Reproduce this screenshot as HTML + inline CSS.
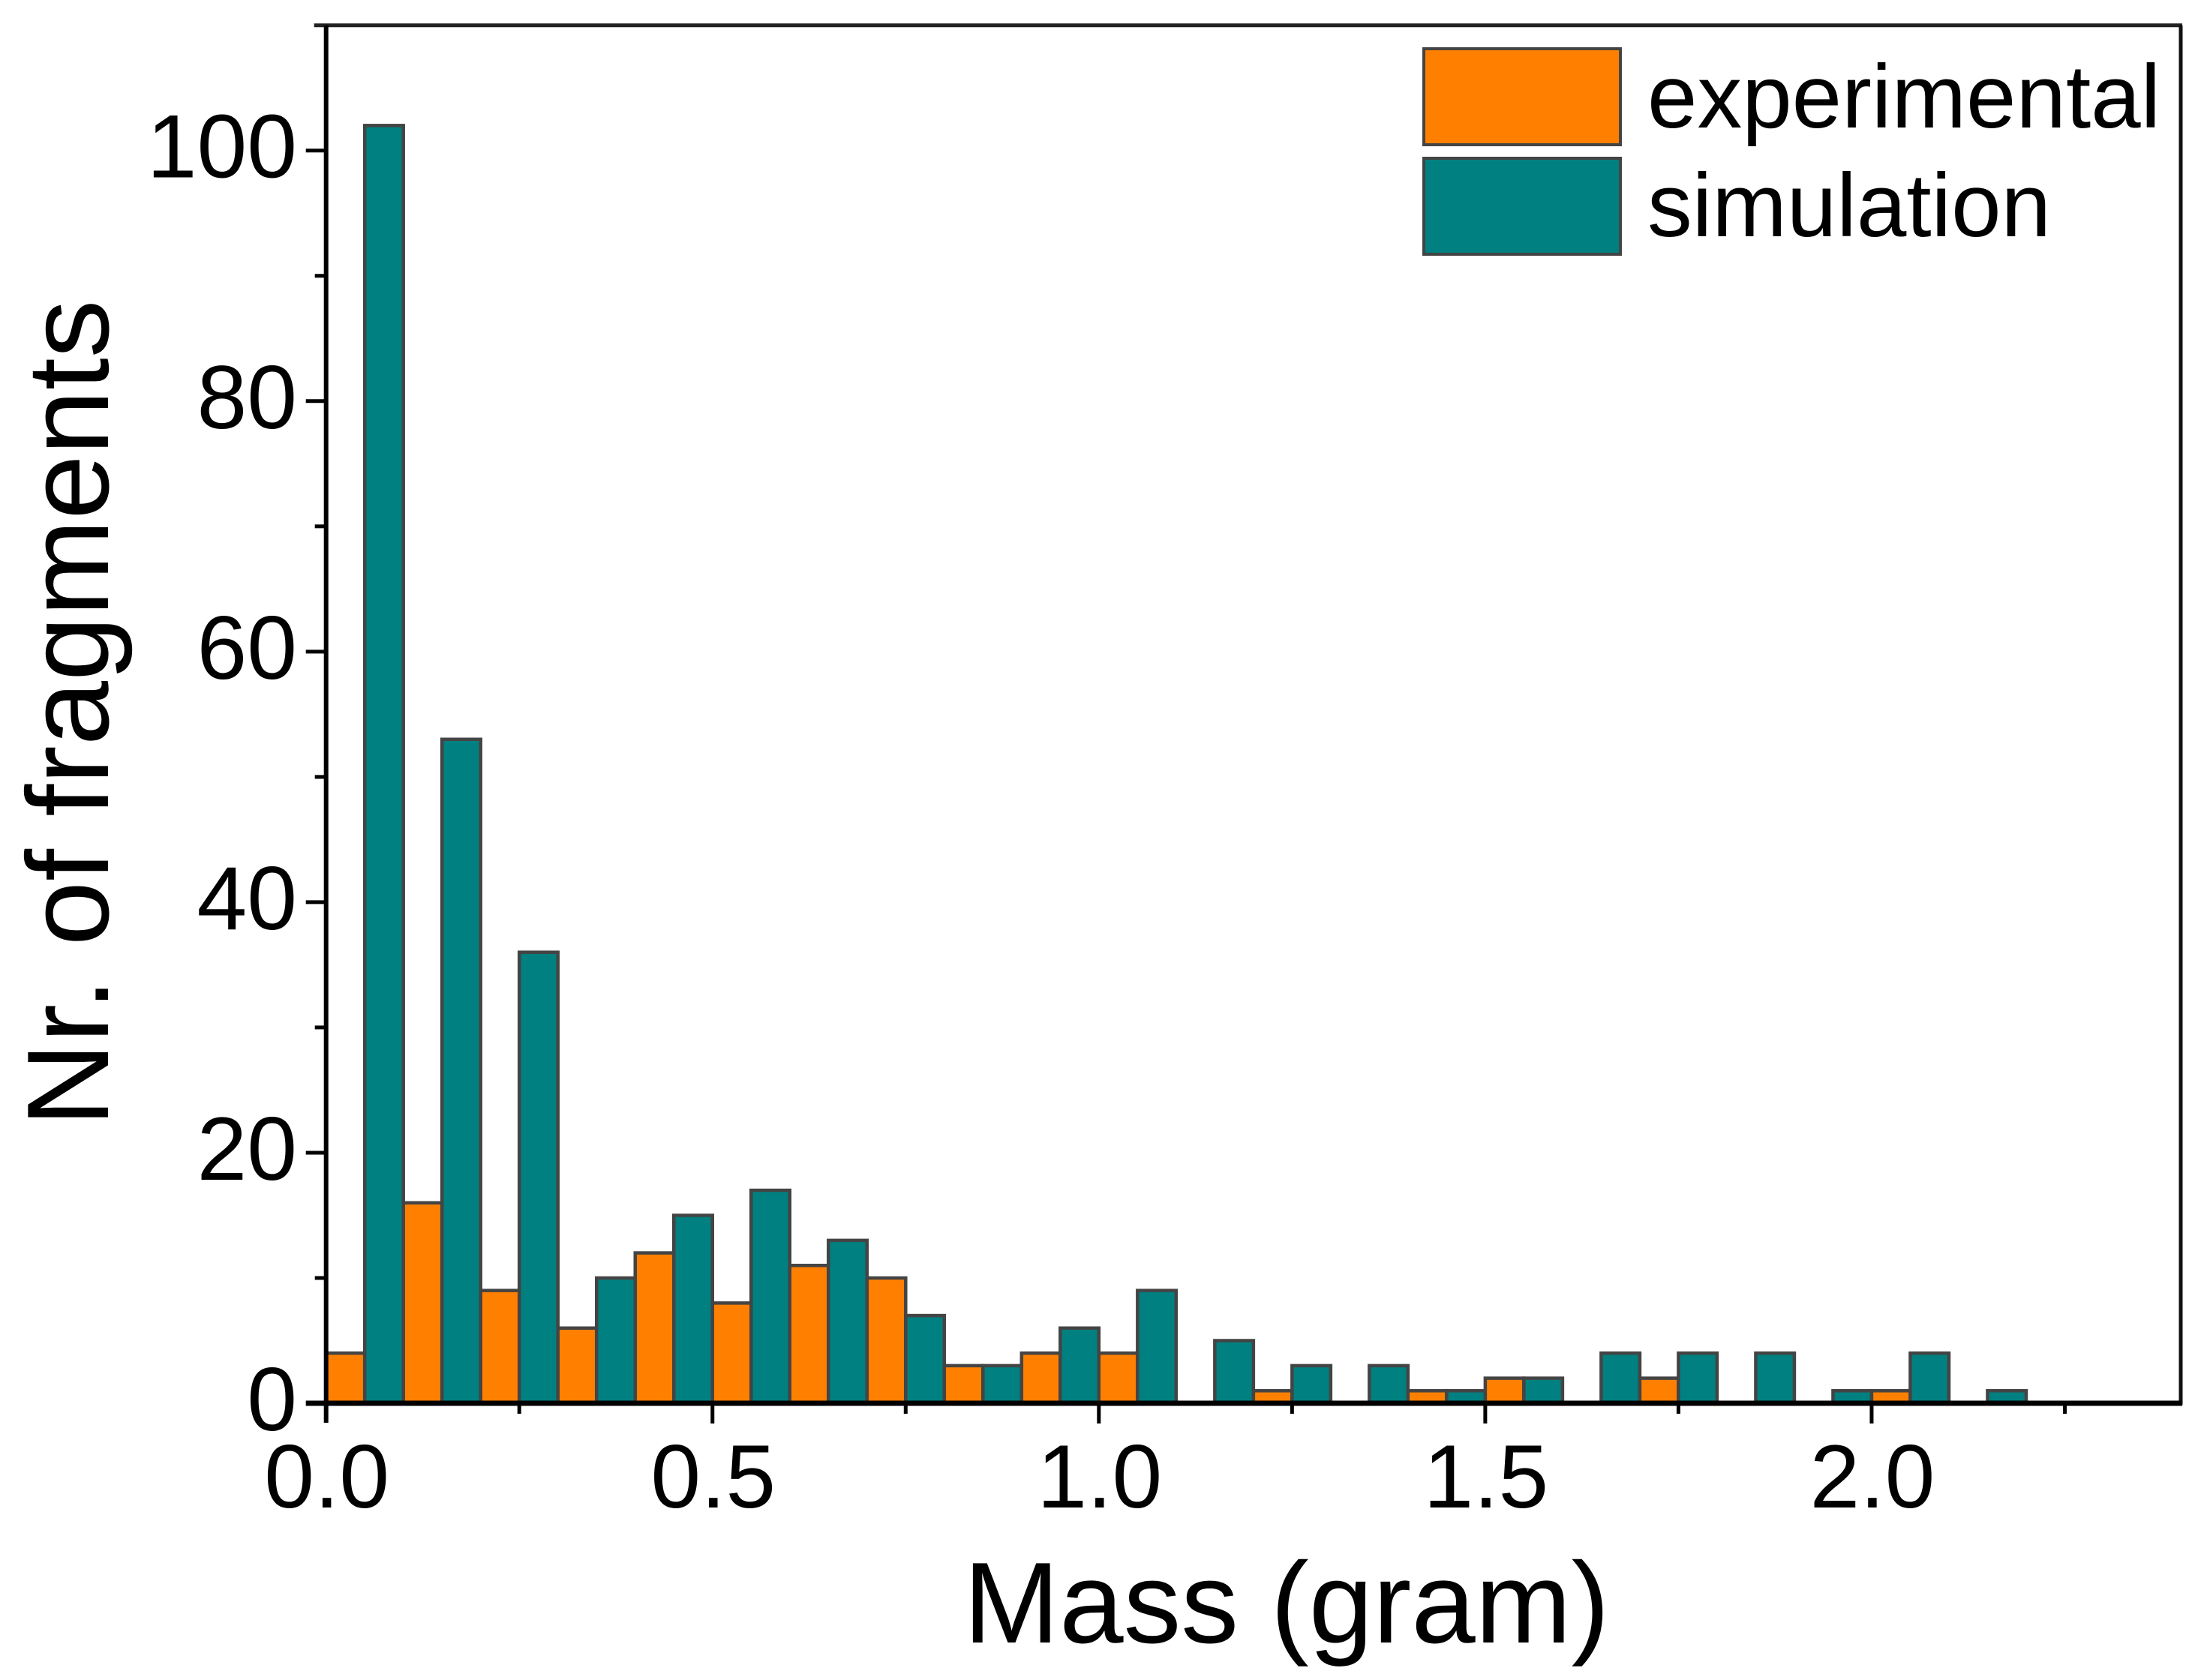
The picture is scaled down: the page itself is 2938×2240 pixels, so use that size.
<!DOCTYPE html>
<html lang="en">
<head>
<meta charset="utf-8">
<title>Mass histogram</title>
<style>
html,body{margin:0;padding:0;background:#fff;}
svg{display:block;}
text{font-family:"Liberation Sans",Arial,sans-serif;fill:#000;}
</style>
</head>
<body>
<svg id="chart" xmlns="http://www.w3.org/2000/svg" width="2938" height="2240" viewBox="0 0 2938 2240">
  <rect x="0" y="0" width="2938" height="2240" fill="#fff"/>
  <g id="bars"></g>
  <g id="axes"></g>
  <g id="labels"></g>
  <text x="1715" y="2190" font-size="153.5" text-anchor="middle">Mass (gram)</text>
  <text transform="translate(144 951) rotate(-90)" font-size="155" text-anchor="middle">Nr. of fragments</text>
  <g>
    <rect x="1898" y="65" width="262" height="128" fill="#ff8000" stroke="#444" stroke-width="4"/>
    <text x="2196" y="170" font-size="119.5">experimental</text>
    <rect x="1898" y="211" width="262" height="128" fill="#008080" stroke="#444" stroke-width="4"/>
    <text x="2196" y="315" font-size="119.5">simulation</text>
  </g>
</svg>
<script>
const experimental = [4,16,9,6,12,8,11,10,3,4,4,0,1,0,1,2,0,2,0,0,1,0];
const simulation = [102,53,36,10,15,17,13,7,3,6,9,5,3,3,1,2,4,4,4,1,4,1];
const binStarts = [0,0.1,0.2,0.3,0.4,0.5,0.6,0.7,0.8,0.9,1.0,1.1,1.2,1.3,1.4,1.5,1.6,1.7,1.8,1.9,2.0,2.1];
const xMajorTicks = [0,0.5,1.0,1.5,2.0];
const xMinorTicks = [0.25,0.75,1.25,1.75,2.25];
const xTickLabels = ["0.0","0.5","1.0","1.5","2.0"];
const yMajorTicks = [0,20,40,60,80,100];
const yMinorTicks = [10,30,50,70,90,110];
const yTickLabels = ["0","20","40","60","80","100"];
const barBinWidth = 0.05;

const plotLeft = 434.7, plotRight = 2907, plotTop = 33.7, plotBottom = 1871;
const xMax = 2.4, yMax = 110;
function xScale(v){ return plotLeft + (v / xMax) * (plotRight - plotLeft); }
function yScale(v){ return plotBottom - (v / yMax) * (plotBottom - plotTop); }

const NS = "http://www.w3.org/2000/svg";
const barsG = document.getElementById("bars");
const axesG = document.getElementById("axes");
const labelsG = document.getElementById("labels");

function drawBar(start, value, fill, name){
  if (value <= 0) return;
  const r = document.createElementNS(NS, "rect");
  r.setAttribute("x", xScale(start));
  r.setAttribute("y", yScale(value));
  r.setAttribute("width", xScale(start + barBinWidth) - xScale(start));
  r.setAttribute("height", yScale(0) - yScale(value));
  r.setAttribute("fill", fill);
  r.setAttribute("stroke", "#444");
  r.setAttribute("stroke-width", "4.5");
  
  
  barsG.appendChild(r);
}
binStarts.forEach(function(s, i){
  drawBar(s, experimental[i], "#ff8000", "bar-experimental-" + i);
  drawBar(s + barBinWidth, simulation[i], "#008080", "bar-simulation-" + i);
});

function drawLine(x1, y1, x2, y2, width, color, name){
  const l = document.createElementNS(NS, "line");
  l.setAttribute("x1", x1);
  l.setAttribute("y1", y1);
  l.setAttribute("x2", x2);
  l.setAttribute("y2", y2);
  l.setAttribute("stroke", color);
  l.setAttribute("stroke-width", width);
  
  
  axesG.appendChild(l);
}
function drawLabel(x, y, str, anchor, name){
  const t = document.createElementNS(NS, "text");
  t.setAttribute("x", x);
  t.setAttribute("y", y);
  t.setAttribute("font-size", "120");
  t.setAttribute("text-anchor", anchor);
  t.textContent = str;
  
  
  labelsG.appendChild(t);
}

drawLine(plotLeft - 16, plotTop, plotRight + 2, plotTop, 5, "#222", "top-border");
drawLine(plotRight, plotTop, plotRight, plotBottom + 2, 5, "#111", "right-border");
drawLine(plotLeft, plotTop, plotLeft, plotBottom + 26, 6, "#000", "y-axis-line");
drawLine(plotLeft - 27, plotBottom, plotRight + 2, plotBottom, 7, "#000", "x-axis-line");

xMajorTicks.forEach(function(v, i){
  if (v > 0) drawLine(xScale(v), plotBottom, xScale(v), plotBottom + 27, 5, "#000", "x-major-tick-" + i);
  drawLabel(xScale(v) + 1, 2010, xTickLabels[i], "middle", "x-tick-label-" + xTickLabels[i]);
});
xMinorTicks.forEach(function(v, i){
  drawLine(xScale(v), plotBottom, xScale(v), plotBottom + 14, 5, "#000", "x-minor-tick-" + i);
});
yMajorTicks.forEach(function(v, i){
  if (v > 0) drawLine(plotLeft - 27, yScale(v), plotLeft, yScale(v), 5, "#000", "y-major-tick-" + i);
  drawLabel(396, yScale(v) + 36, yTickLabels[i], "end", "y-tick-label-" + yTickLabels[i]);
});
yMinorTicks.forEach(function(v, i){
  if (v < yMax) drawLine(plotLeft - 15, yScale(v), plotLeft, yScale(v), 5, "#000", "y-minor-tick-" + i);
});
</script>
</body>
</html>
